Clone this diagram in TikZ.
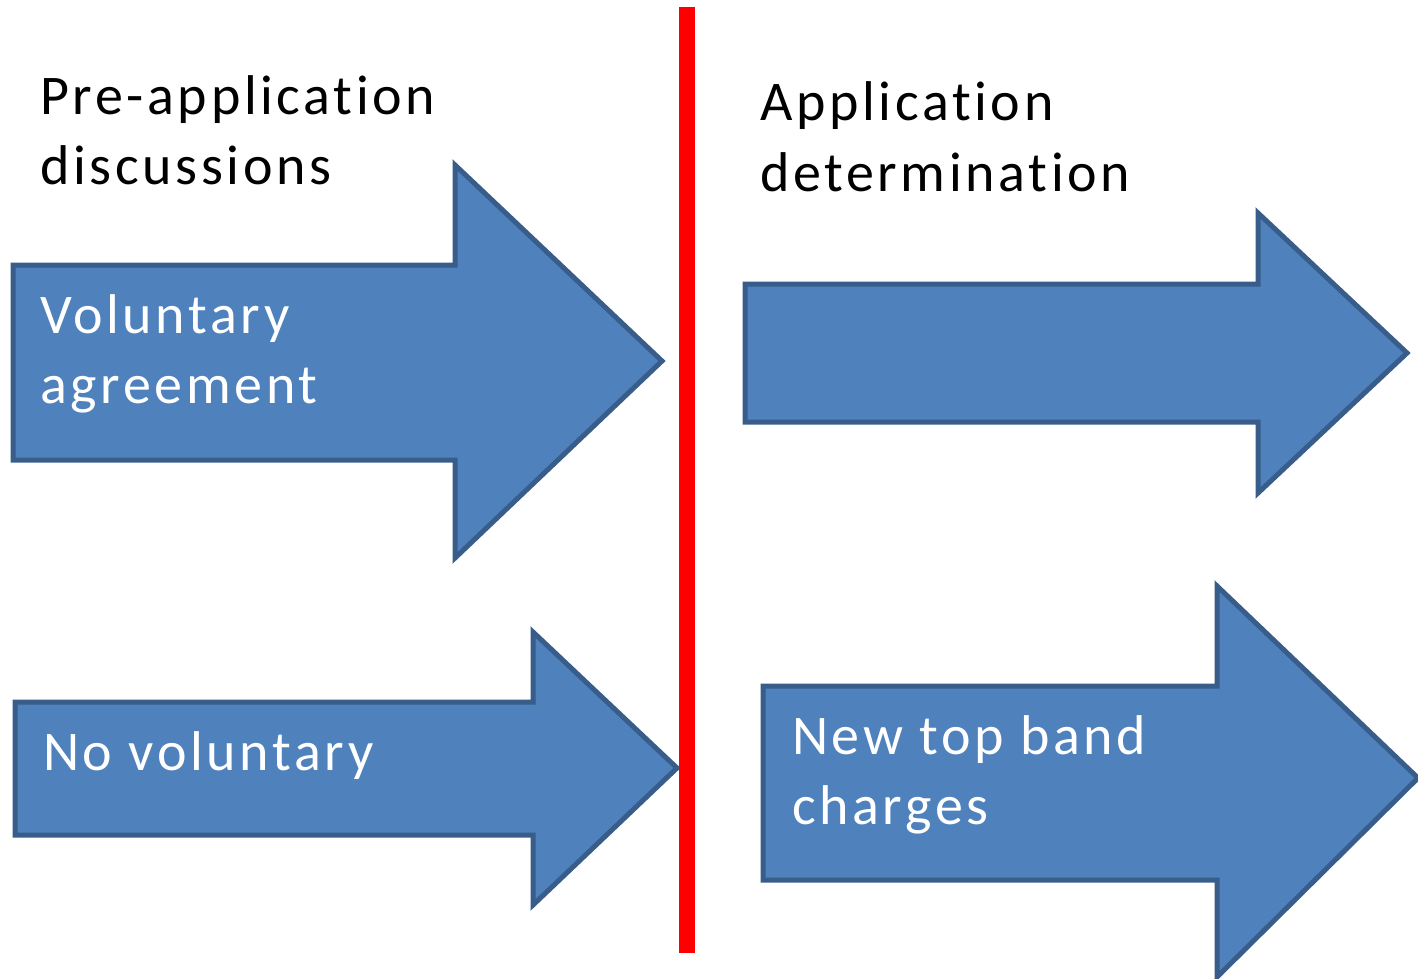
\documentclass[tikz,border=0pt]{standalone}
\usepackage{fontspec}
\setmainfont{Carlito}[LetterSpace=6.5,Ligatures=NoCommon]
\definecolor{afill}{HTML}{4F81BD}
\definecolor{aline}{HTML}{385D8A}
\definecolor{redline}{HTML}{FF0000}
\begin{document}
\begin{tikzpicture}[x=1pt,y=-1pt,
  bigarrow/.style={fill=afill,draw=aline,line width=5pt,line join=miter},
  blacktext/.style={anchor=base west,inner sep=0pt,font=\fontsize{56}{70}\selectfont,text=black},
  whitetext/.style={anchor=base west,inner sep=0pt,font=\fontsize{56}{70}\selectfont,text=white}]
\useasboundingbox (0,0) rectangle (1418,979);
% arrows
\draw[bigarrow] (13,265) -- (455,265) -- (455,165) -- (662,361) -- (455,558) -- (455,460) -- (13,460) -- cycle;
\draw[bigarrow] (745,284) -- (1258,284) -- (1258,213) -- (1407,353) -- (1258,493) -- (1258,422) -- (745,422) -- cycle;
\draw[bigarrow] (15,702) -- (533,702) -- (533,632) -- (677,768) -- (533,905) -- (533,835) -- (15,835) -- cycle;
\draw[bigarrow] (763,686) -- (1217,686) -- (1217,586) -- (1418,778) -- (1217,977) -- (1217,880) -- (763,880) -- cycle;
% red line
\coordinate (rtop) at (687,7);
\coordinate (rbot) at (687,953);
\draw[redline,line width=16pt] (rtop) -- (rbot);
% texts
\node[blacktext] (pre1) at (40,115) {Pre-application};
\node[blacktext] (pre2) at (40,184) {discussions};
\node[blacktext] (app1) at (760,121) {Application};
\node[blacktext] (app2) at (760,191) {determination};
\node[whitetext] (vol1) at (40,333) {Voluntary};
\node[whitetext] (vol2) at (40,403) {agreement};
\node[whitetext] (novol) at (43,770) {No voluntary};
\node[whitetext] (new1) at (792,754) {New top band};
\node[whitetext] (new2) at (792,824) {charges};
\end{tikzpicture}
\end{document}
